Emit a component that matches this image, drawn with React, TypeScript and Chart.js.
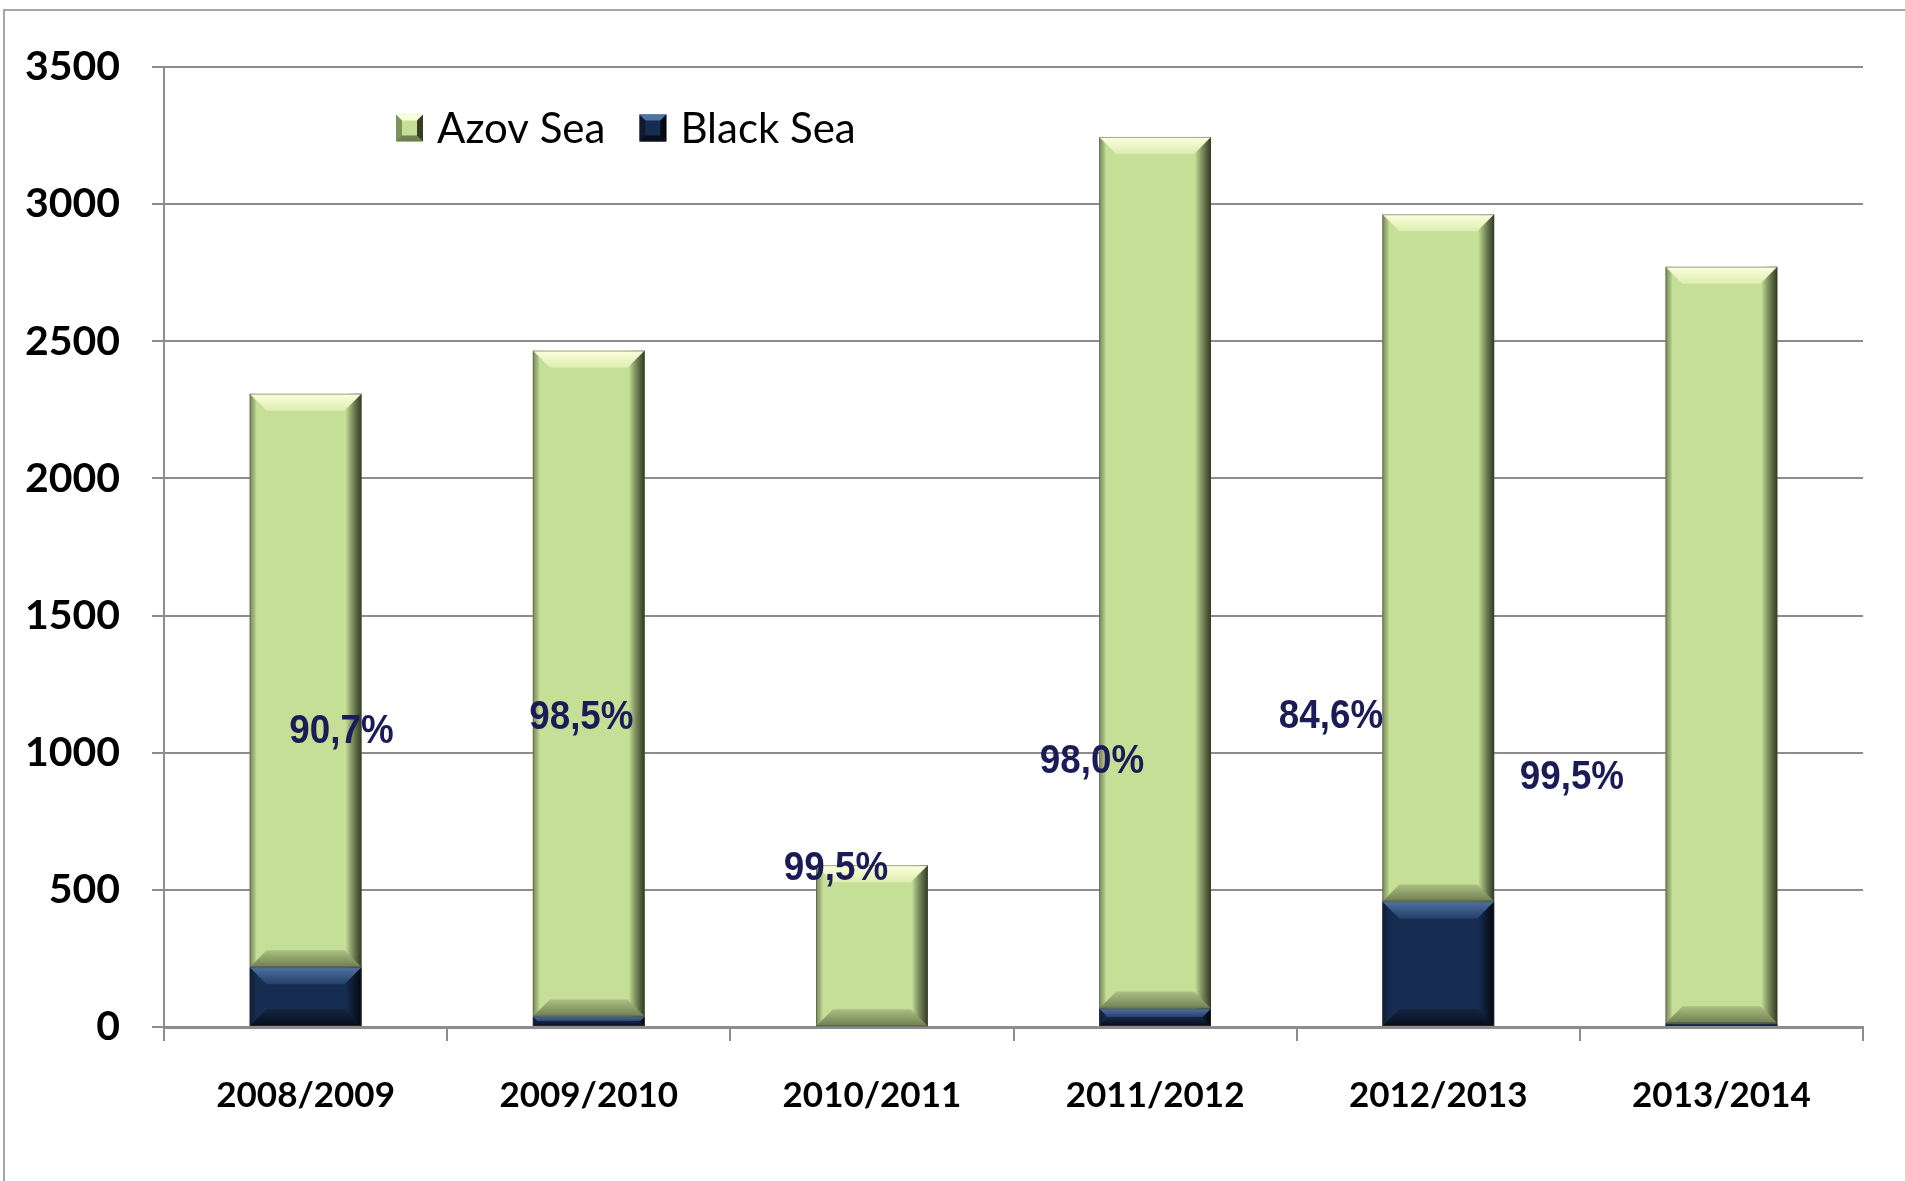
import React, { useEffect, useRef } from "react";
import { Chart, registerables } from "chart.js";

Chart.register(...registerables);

// ---- data ----
const categories = ["2008/2009", "2009/2010", "2010/2011", "2011/2012", "2012/2013", "2013/2014"];
const azovSea = [2091, 2428, 587, 3178, 2505, 2758];
const blackSea = [218, 38, 3, 67, 458, 14];
const yMin = 0;
const yMax = 3500;
const yStep = 500;
const shareLabels = ["90,7%", "98,5%", "99,5%", "98,0%", "84,6%", "99,5%"];
// anchor of each share label: position on the category axis (index units) and value on the y axis
const shareLabelCategoryPos = [0.127, 0.974, 1.873, 2.777, 3.621, 4.472];
const shareLabelValue = [1074, 1125, 575, 965, 1129, 907];

const GREEN = "#c5df97";
const NAVY = "#172c51";

type BevelStyle = {
  top1: string; top2: string; bot1: string; bot2: string; right: string; left: string;
};
const bevelStyles: Record<string, BevelStyle> = {
  "Azov Sea": {
    top1: "#fcffdc", top2: "#deedb2", bot1: "#6f7e52", bot2: "#abc081",
    right: "rgba(35,42,22,0.9)", left: "rgba(70,80,50,0.55)",
  },
  "Black Sea": {
    top1: "#4f73a5", top2: "#253f68", bot1: "#070e1c", bot2: "#142645",
    right: "rgba(0,0,0,0.85)", left: "rgba(0,0,0,0.4)",
  },
};

function drawBevel(ctx: CanvasRenderingContext2D, l: number, t: number, r: number, b: number, s: BevelStyle) {
  const h = b - t;
  const w = r - l;
  if (h < 2 || w < 2) return;
  const bv = Math.min(17, h / 2);
  const side = Math.min(16, w / 4);
  ctx.save();
  let g = ctx.createLinearGradient(r - side, 0, r, 0);
  g.addColorStop(0, "rgba(0,0,0,0)");
  g.addColorStop(1, s.right);
  ctx.fillStyle = g;
  ctx.fillRect(r - side, t, side, h);
  g = ctx.createLinearGradient(l, 0, l + 7, 0);
  g.addColorStop(0, s.left);
  g.addColorStop(1, "rgba(0,0,0,0)");
  ctx.fillStyle = g;
  ctx.fillRect(l, t, 7, h);
  g = ctx.createLinearGradient(0, t, 0, t + bv);
  g.addColorStop(0, s.top1);
  g.addColorStop(1, s.top2);
  ctx.fillStyle = g;
  ctx.beginPath();
  ctx.moveTo(l, t);
  ctx.lineTo(r, t);
  ctx.lineTo(r - bv, t + bv);
  ctx.lineTo(l + bv, t + bv);
  ctx.closePath();
  ctx.fill();
  g = ctx.createLinearGradient(0, b, 0, b - bv);
  g.addColorStop(0, s.bot1);
  g.addColorStop(1, s.bot2);
  ctx.fillStyle = g;
  ctx.beginPath();
  ctx.moveTo(l, b);
  ctx.lineTo(r, b);
  ctx.lineTo(r - bv, b - bv);
  ctx.lineTo(l + bv, b - bv);
  ctx.closePath();
  ctx.fill();
  ctx.strokeStyle = "rgba(60,60,60,0.45)";
  ctx.lineWidth = 1;
  ctx.strokeRect(l + 0.5, t + 0.5, w - 1, h - 1);
  ctx.restore();
}

const bevelPlugin = {
  id: "bevel",
  afterDatasetsDraw(chart: any) {
    const ctx = chart.ctx;
    chart.data.datasets.forEach((ds: any, di: number) => {
      const meta = chart.getDatasetMeta(di);
      const style = bevelStyles[ds.label];
      meta.data.forEach((el: any) => {
        const { x, y, base, width } = el.getProps(["x", "y", "base", "width"], true);
        drawBevel(ctx, x - width / 2, Math.min(y, base), x + width / 2, Math.max(y, base), style);
      });
    });
  },
};

const shareLabelPlugin = {
  id: "shareLabels",
  afterDatasetsDraw(chart: any) {
    const ctx = chart.ctx;
    const xs = chart.scales.x;
    const ys = chart.scales.y;
    const p0 = xs.getPixelForValue(0);
    const step = xs.getPixelForValue(1) - p0;
    ctx.save();
    ctx.font = "bold 40px 'Liberation Sans', Arial, sans-serif";
    ctx.fillStyle = "#1b1b58";
    ctx.textAlign = "center";
    ctx.textBaseline = "middle";
    shareLabels.forEach((txt, i) => {
      const px = p0 + shareLabelCategoryPos[i] * step;
      const py = ys.getPixelForValue(shareLabelValue[i]);
      ctx.save();
      ctx.translate(px, py);
      ctx.scale(0.92, 1);
      ctx.fillText(txt, 0, 0);
      ctx.restore();
    });
    ctx.restore();
  },
};

const legendPlugin = {
  id: "customLegend",
  afterDraw(chart: any) {
    const ctx = chart.ctx;
    const area = chart.chartArea;
    const order = ["Azov Sea", "Black Sea"];
    let x = area.left + 232;
    const cy = area.top + 61;
    const box = 27;
    ctx.save();
    ctx.font = "42px Lato, 'Open Sans', sans-serif";
    ctx.textBaseline = "middle";
    ctx.textAlign = "left";
    order.forEach((label) => {
      const ds = chart.data.datasets.find((d: any) => d.label === label);
      ctx.fillStyle = ds.backgroundColor;
      ctx.fillRect(x, cy - box / 2, box, box);
      const s = bevelStyles[label];
      ctx.save();
      const l = x, t = cy - box / 2, r = x + box, b = cy + box / 2, bv = 6;
      ctx.fillStyle = s.top1;
      ctx.beginPath(); ctx.moveTo(l, t); ctx.lineTo(r, t); ctx.lineTo(r - bv, t + bv); ctx.lineTo(l + bv, t + bv); ctx.closePath(); ctx.fill();
      ctx.fillStyle = s.bot1;
      ctx.beginPath(); ctx.moveTo(l, b); ctx.lineTo(r, b); ctx.lineTo(r - bv, b - bv); ctx.lineTo(l + bv, b - bv); ctx.closePath(); ctx.fill();
      ctx.fillStyle = s.right;
      ctx.beginPath(); ctx.moveTo(r, t); ctx.lineTo(r, b); ctx.lineTo(r - bv, b - bv); ctx.lineTo(r - bv, t + bv); ctx.closePath(); ctx.fill();
      ctx.fillStyle = s.left;
      ctx.beginPath(); ctx.moveTo(l, t); ctx.lineTo(l, b); ctx.lineTo(l + bv, b - bv); ctx.lineTo(l + bv, t + bv); ctx.closePath(); ctx.fill();
      ctx.restore();
      ctx.fillStyle = "#000000";
      ctx.fillText(label, x + box + 14, cy + 1);
      x += box + 14 + ctx.measureText(label).width + 34;
    });
    ctx.restore();
  },
};

export default function App() {
  const canvasRef = useRef<HTMLCanvasElement | null>(null);

  useEffect(() => {
    if (!canvasRef.current) return;
    const gridColor = "#8c8c8c";
    const chart = new Chart(canvasRef.current, {
      type: "bar",
      data: {
        labels: categories,
        datasets: [
          { label: "Black Sea", data: blackSea, backgroundColor: NAVY, borderWidth: 0 },
          { label: "Azov Sea", data: azovSea, backgroundColor: GREEN, borderWidth: 0 },
        ],
      },
      options: {
        responsive: false,
        animation: false,
        devicePixelRatio: 1,
        layout: { padding: { top: 67, right: 42, left: 0, bottom: 0 } },
        datasets: { bar: { barPercentage: 0.395, categoryPercentage: 1 } },
        plugins: {
          legend: { display: false },
          tooltip: { enabled: false },
          title: { display: false },
        },
        scales: {
          x: {
            stacked: true,
            afterFit: (scale: any) => { scale.height = 154; },
            grid: {
              offset: true,
              drawOnChartArea: false,
              drawTicks: true,
              tickLength: 14,
              color: gridColor,
              lineWidth: 2,
            },
            border: { display: true, color: gridColor, width: 3 },
            ticks: {
              color: "#000000",
              padding: 34,
              font: { family: "Lato, 'Open Sans', sans-serif", size: 35, weight: "bold" },
              maxRotation: 0,
            },
          },
          y: {
            stacked: true,
            min: yMin,
            max: yMax,
            afterFit: (scale: any) => { scale.width = 164; },
            grid: {
              color: gridColor,
              lineWidth: 2,
              drawTicks: true,
              tickLength: 12,
            },
            border: { display: true, color: gridColor, width: 2 },
            ticks: {
              stepSize: yStep,
              color: "#000000",
              padding: 32,
              callback: (v: any) => String(v),
              font: { family: "Lato, 'Open Sans', sans-serif", size: 41, weight: "bold" },
            },
          },
        },
      },
      plugins: [bevelPlugin, shareLabelPlugin, legendPlugin],
    } as any);
    return () => chart.destroy();
  }, []);

  return (
    <div style={{ position: "fixed", left: 0, top: 0, width: 1905, height: 1181, background: "#ffffff", overflow: "hidden" }}>
      <div
        style={{
          position: "absolute", left: 3, top: 9, width: 1910, height: 1190,
          border: "2px solid #a6a6a6", boxSizing: "border-box",
        }}
      />
      <canvas
        ref={canvasRef}
        width={1905}
        height={1181}
        style={{ position: "absolute", left: 0, top: 0, width: 1905, height: 1181 }}
      />
    </div>
  );
}
